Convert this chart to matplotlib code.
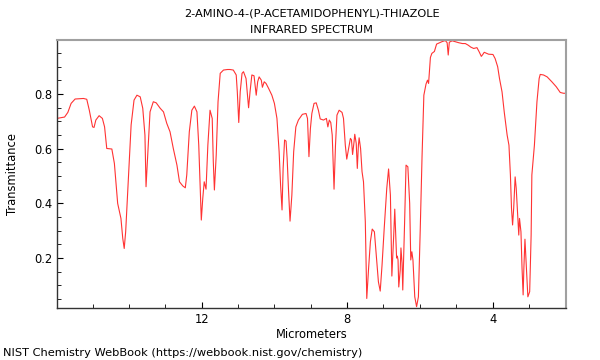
import matplotlib
matplotlib.use("Agg")
import matplotlib.pyplot as plt
from matplotlib.ticker import MultipleLocator

title = "2-AMINO-4-(P-ACETAMIDOPHENYL)-THIAZOLE\nINFRARED SPECTRUM"
x_label = "Micrometers"
y_label = "Transmittance"
footer = "NIST Chemistry WebBook (https://webbook.nist.gov/chemistry)"

wavelength_um = [
    15.98, 15.77, 15.68, 15.59, 15.48, 15.25, 15.16, 15.09, 15.00, 14.96,
    14.91, 14.82, 14.73, 14.67, 14.61, 14.47, 14.40, 14.31, 14.22, 14.17,
    14.13, 14.09, 14.01, 13.94, 13.86, 13.78, 13.69, 13.62, 13.56, 13.53,
    13.48, 13.42, 13.33, 13.25, 13.14, 13.05, 12.96, 12.87, 12.78, 12.68,
    12.61, 12.52, 12.45, 12.41, 12.34, 12.27, 12.20, 12.13, 12.08, 12.01,
    11.97, 11.93, 11.88, 11.83, 11.77, 11.71, 11.68, 11.65, 11.60, 11.55,
    11.49, 11.40, 11.29, 11.22, 11.13, 11.05, 11.02, 10.98, 10.94, 10.89,
    10.85, 10.78, 10.71, 10.67, 10.62, 10.56, 10.50, 10.46, 10.42, 10.36,
    10.33, 10.28, 10.23, 10.16, 10.07, 10.00, 9.93, 9.87, 9.83, 9.79,
    9.76, 9.72, 9.68, 9.65, 9.61, 9.57, 9.52, 9.47, 9.41, 9.34,
    9.23, 9.13, 9.09, 9.05, 9.01, 8.97, 8.91, 8.85, 8.79, 8.74,
    8.65, 8.57, 8.53, 8.49, 8.45, 8.41, 8.36, 8.32, 8.28, 8.22,
    8.14, 8.10, 8.05, 8.01, 7.96, 7.91, 7.88, 7.85, 7.81, 7.79,
    7.75, 7.72, 7.69, 7.67, 7.63, 7.59, 7.55, 7.50, 7.46, 7.41,
    7.36, 7.31, 7.25, 7.20, 7.14, 7.09, 7.04, 6.98, 6.91, 6.86,
    6.81, 6.77, 6.72, 6.69, 6.66, 6.64, 6.62, 6.60, 6.58, 6.54,
    6.52, 6.49, 6.47, 6.42, 6.38, 6.33, 6.28, 6.25, 6.22, 6.19,
    6.14, 6.09, 6.04, 5.99, 5.94, 5.89, 5.83, 5.79, 5.76, 5.71,
    5.67, 5.60, 5.54, 5.49, 5.39, 5.30, 5.25, 5.22, 5.19, 5.11,
    5.03, 4.93, 4.83, 4.75, 4.67, 4.60, 4.52, 4.43, 4.37, 4.31,
    4.27, 4.23, 4.11, 3.99, 3.93, 3.86, 3.81, 3.74, 3.68, 3.60,
    3.55, 3.51, 3.48, 3.45, 3.42, 3.38, 3.35, 3.31, 3.28, 3.26,
    3.22, 3.19, 3.16, 3.14, 3.11, 3.07, 3.03, 2.98, 2.94, 2.92,
    2.85, 2.78, 2.72, 2.69, 2.60, 2.50, 2.37, 2.25, 2.14, 2.05,
    1.99,
]

transmittance = [
    0.711, 0.716, 0.733, 0.766, 0.782, 0.784, 0.781, 0.741, 0.680, 0.678,
    0.705, 0.721, 0.711, 0.680, 0.601, 0.599, 0.546, 0.400, 0.345, 0.272,
    0.235, 0.296, 0.504, 0.687, 0.778, 0.796, 0.790, 0.748, 0.650, 0.461,
    0.589, 0.735, 0.772, 0.768, 0.748, 0.735, 0.693, 0.662, 0.601, 0.540,
    0.479, 0.464, 0.457, 0.504, 0.662, 0.741, 0.756, 0.735, 0.613, 0.339,
    0.418, 0.479, 0.452, 0.613, 0.741, 0.711, 0.552, 0.449, 0.577, 0.772,
    0.876, 0.888, 0.890, 0.890, 0.888, 0.870, 0.808, 0.696, 0.808, 0.876,
    0.882, 0.857, 0.750, 0.808, 0.870, 0.867, 0.796, 0.845, 0.863, 0.851,
    0.825, 0.845, 0.839, 0.821, 0.796, 0.766, 0.711, 0.589, 0.467, 0.376,
    0.528, 0.632, 0.628, 0.565, 0.443, 0.335, 0.430, 0.589, 0.680, 0.705,
    0.726, 0.729, 0.711, 0.571, 0.674, 0.729, 0.766, 0.768, 0.741, 0.709,
    0.705, 0.711, 0.680, 0.705, 0.696, 0.650, 0.452, 0.613, 0.723, 0.741,
    0.733, 0.711, 0.613, 0.562, 0.601, 0.638, 0.632, 0.579, 0.625, 0.653,
    0.620, 0.528, 0.613, 0.640, 0.601, 0.516, 0.479, 0.333, 0.052, 0.162,
    0.260, 0.306, 0.296, 0.211, 0.113, 0.079, 0.174, 0.309, 0.455, 0.526,
    0.430, 0.134, 0.280, 0.379, 0.277, 0.200, 0.207, 0.193, 0.094, 0.156,
    0.237, 0.182, 0.083, 0.328, 0.540, 0.534, 0.400, 0.193, 0.223, 0.193,
    0.058, 0.022, 0.058, 0.302, 0.571, 0.796, 0.837, 0.851, 0.839, 0.934,
    0.949, 0.956, 0.983, 0.986, 0.992, 0.996, 0.988, 0.943, 0.990, 0.995,
    0.992, 0.988, 0.985, 0.985, 0.979, 0.972, 0.967, 0.970, 0.955, 0.938,
    0.945, 0.953, 0.946, 0.945, 0.930, 0.900, 0.857, 0.808, 0.735, 0.650,
    0.613, 0.504, 0.382, 0.321, 0.382, 0.497, 0.455, 0.357, 0.284, 0.345,
    0.296, 0.162, 0.065, 0.162, 0.269, 0.162, 0.058, 0.077, 0.284, 0.504,
    0.613, 0.772, 0.857, 0.872, 0.870, 0.863, 0.845, 0.827, 0.806, 0.803,
    0.803,
]

x_ticks = [12, 8, 4]
y_ticks = [0.2, 0.4, 0.6, 0.8]

fig = plt.figure(figsize=(6, 3.6), dpi=100)
ax = fig.add_axes([0.0955, 0.1436, 0.8473, 0.7453])
ax.plot(wavelength_um, transmittance, color="#ff3333", lw=0.8)

ax.set_xlim(15.97, 1.99)
ax.set_ylim(0.016, 0.998)
ax.set_xticks(x_ticks)
ax.set_xticklabels([str(t) for t in x_ticks])
ax.xaxis.set_minor_locator(MultipleLocator(1))
ax.set_yticks(y_ticks)
ax.set_yticklabels([f"{t:.1f}" for t in y_ticks])
ax.yaxis.set_minor_locator(MultipleLocator(0.05))
ax.tick_params(which="both", direction="in", labelsize=8.3, top=False, right=False)
ax.tick_params(which="major", length=4)
ax.tick_params(which="minor", length=3)

for side in ["top", "right"]:
    ax.spines[side].set_color("#a0a0a0")
    ax.spines[side].set_linewidth(1.5)
for side in ["left", "bottom"]:
    ax.spines[side].set_color("#333333")
    ax.spines[side].set_linewidth(1.0)

ax.set_xlabel(x_label, fontsize=8.3, labelpad=1)
ax.set_ylabel(y_label, fontsize=8.3, labelpad=11)
fig.text(0.52, 1 - 13 / 360, "2-AMINO-4-(P-ACETAMIDOPHENYL)-THIAZOLE", fontsize=8.2,
         ha="center", va="center")
fig.text(0.52, 1 - 30 / 360, "INFRARED SPECTRUM", fontsize=8.2, ha="center", va="center")
fig.text(0.005, 0.006, footer, fontsize=8.2, ha="left", va="bottom")

fig.savefig("out.png", dpi=100)
